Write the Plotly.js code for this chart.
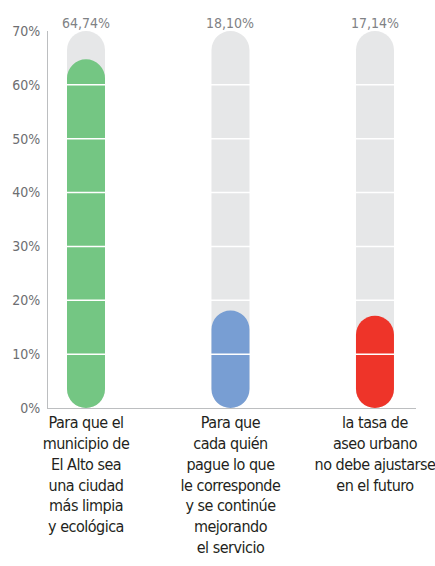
<!DOCTYPE html>
<html>
<head>
<meta charset="utf-8">
<script src="https://cdn.plot.ly/plotly-3.0.1.min.js"></script>
<style>
html,body{margin:0;padding:0;background:#fff;}
#chart{width:435px;height:566px;}
#chart .xtick text{letter-spacing:-0.5px;}
</style>
</head>
<body>
<div id="chart"></div>
<script>
const categories = [
  "Para que el<br>municipio de<br>El Alto sea<br>una ciudad<br>más limpia<br>y ecológica",
  "Para que<br>cada quién<br>pague lo que<br>le corresponde<br>y se continúe<br>mejorando<br>el servicio",
  "la tasa de<br>aseo urbano<br>no debe ajustarse<br>en el futuro"
];
const values = [64.74, 18.10, 17.14];
const valueLabels = ["64,74%", "18,10%", "17,14%"];
const colors = ["#74C683", "#789ED3", "#EE3429"];
const trackMax = 70;
const tickVals = [0, 10, 20, 30, 40, 50, 60, 70];
const tickText = ["0%", "10%", "20%", "30%", "40%", "50%", "60%", "70%"];

const idx = categories.map((c, i) => i);
const barW = 0.263;
const font = "'Liberation Sans Narrow', 'DejaVu Sans Condensed', 'Liberation Sans', sans-serif";
const zeros = idx.map(() => 0);

const traces = [
  {type: "bar", x: idx, y: idx.map(() => trackMax), base: zeros, width: barW,
   marker: {color: "#E6E7E8", cornerradius: "50%"}, hoverinfo: "skip"},
  {type: "bar", x: idx, y: values, base: zeros, width: barW,
   marker: {color: colors, cornerradius: "50%"}, hoverinfo: "skip"}
];

const shapes = tickVals.filter(t => t > 0 && t < trackMax).map(t => ({
  type: "line", xref: "paper", x0: 0.02, x1: 1, yref: "y", y0: t, y1: t,
  line: {color: "#FFFFFF", width: 1.5}, layer: "above"
}));

const annotations = idx.map(i => ({
  x: i, y: trackMax, xref: "x", yref: "y", text: valueLabels[i],
  showarrow: false, yanchor: "bottom", yshift: -2,
  font: {family: font, size: 14, color: "#808285"}
}));

const layout = {
  width: 435, height: 566,
  margin: {l: 48, r: 19, t: 31, b: 158},
  paper_bgcolor: "#fff", plot_bgcolor: "#fff",
  barmode: "overlay",
  showlegend: false,
  xaxis: {
    type: "linear", range: [-0.263, 2.284],
    tickvals: idx, ticktext: categories,
    showgrid: false, zeroline: false,
    showline: true, linecolor: "#BCBEC0", linewidth: 1,
    ticks: "", ticklabeloverflow: "allow",
    tickfont: {family: font, size: 16, color: "#231F20"}
  },
  yaxis: {
    range: [0, trackMax], tickvals: tickVals, ticktext: tickText,
    showgrid: false, zeroline: false,
    showline: true, linecolor: "#BCBEC0", linewidth: 1,
    ticks: "", ticklabelstandoff: 4,
    tickfont: {family: font, size: 14, color: "#6D6E71"}
  },
  shapes: shapes,
  annotations: annotations
};

Plotly.newPlot("chart", traces, layout, {displayModeBar: false, staticPlot: true});
</script>
</body>
</html>
